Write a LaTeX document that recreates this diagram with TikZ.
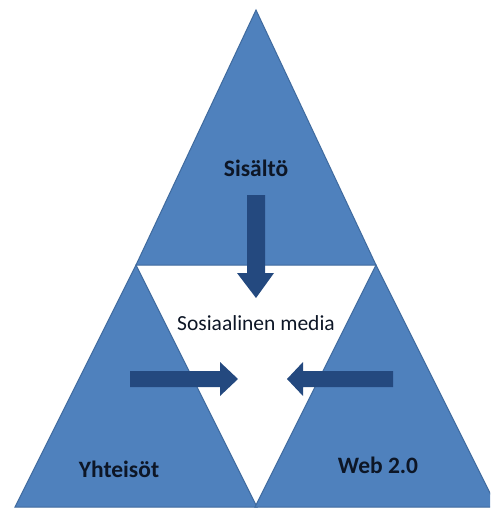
\documentclass[tikz,border=0pt]{standalone}
\usepackage{fontspec}
\setmainfont{Carlito}
\usetikzlibrary{positioning}
\definecolor{triblue}{HTML}{4F81BD}
\definecolor{triedge}{HTML}{3F6A9E}
\definecolor{arrowblue}{HTML}{24497F}
\definecolor{txt}{HTML}{0D1626}

\begin{document}
\begin{tikzpicture}[x=1pt,y=-1pt,
    tri/.style={fill=triblue,draw=triedge,line width=1pt},
    blockarrow/.style={fill=arrowblue},
    lbl/.style={text=txt,font=\fontsize{23.5}{26}\selectfont\bfseries}]
    \useasboundingbox (0,0) rectangle (490,508);
    \clip (0,0) rectangle (490,508);
    % the three triangles
    \path[tri] (256,10) -- (376,265) -- (136,265) -- cycle;
    \path[tri] (136,265) -- (257,507) -- (15,507) -- cycle;
    \path[tri] (376,265) -- (497,507) -- (255,507) -- cycle;
    % block arrows
    \fill[blockarrow] (247,195) -- (265,195) -- (265,273) -- (274,273)
          -- (256,298) -- (237,273) -- (247,273) -- cycle;
    \fill[blockarrow] (130,371) -- (220,371) -- (220,362) -- (238,379)
          -- (220,396) -- (220,387) -- (130,387) -- cycle;
    \fill[blockarrow] (393,371) -- (303,371) -- (303,362) -- (287,379)
          -- (303,396) -- (303,387) -- (393,387) -- cycle;
    % labels
    \path (256,168) node[lbl] (sisalto) {Sisältö}
          (256,323) node[text=txt,font=\fontsize{21.5}{24}\selectfont] (some) {Sosiaalinen media}
          (119,469) node[lbl] (yhteisot) {Yhteisöt}
          (378,465) node[lbl] (web) {Web 2.0};
\end{tikzpicture}
\end{document}
